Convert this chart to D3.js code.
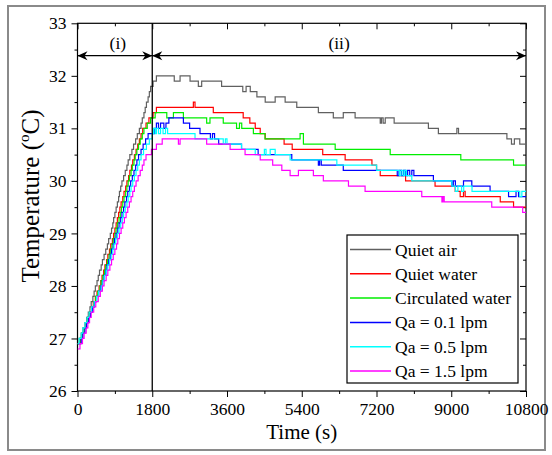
<!DOCTYPE html>
<html>
<head>
<meta charset="utf-8">
<script src="https://cdn.jsdelivr.net/npm/d3@7"></script>
<style>
body { margin: 0; background: #fff; }
text { font-family: "Liberation Serif", "Times New Roman", serif; fill: #000; }
</style>
</head>
<body>
<svg id="chart" width="552" height="455"></svg>
<script>
// [time (s), temperature (C)] step points
var quietAir = [[0,26.9],[40,27.0],[90,27.1],[130,27.2],[180,27.3],[220,27.4],[260,27.5],[300,27.6],[330,27.7],[370,27.8],[400,27.9],[430,28.0],[470,28.1],[500,28.2],[530,28.3],[570,28.4],[600,28.5],[640,28.6],[680,28.7],[720,28.8],[750,28.9],[790,29.0],[820,29.1],[850,29.2],[870,29.3],[900,29.4],[930,29.5],[960,29.6],[990,29.7],[1010,29.8],[1040,29.9],[1070,30.0],[1110,30.1],[1150,30.2],[1190,30.3],[1220,30.4],[1260,30.5],[1310,30.6],[1350,30.7],[1400,30.8],[1440,30.9],[1490,31.0],[1530,31.1],[1560,31.2],[1600,31.3],[1630,31.4],[1660,31.5],[1700,31.6],[1730,31.7],[1760,31.8],[1820,31.9],[1900,32.0],
	[2330,31.9],[2470,32.0],[2710,31.9],[2910,31.8],[2990,31.9],[3470,31.8],[3980,31.7],[4060,31.8],[4160,31.7],[4320,31.6],[4520,31.5],[4760,31.6],[5000,31.5],[5280,31.4],[5800,31.3],[6160,31.2],[6400,31.3],[6685,31.2],[7290,31.1],[7320,31.2],[7360,31.1],[7410,31.2],[7625,31.1],[8450,31.0],[8690,30.9],[9135,31.0],[9175,30.9],[10340,30.8],[10450,30.7],[10520,30.8],[10650,30.7],[10800,30.7]];

var quietWater = [[0,26.9],[70,27.0],[110,27.1],[160,27.2],[200,27.3],[250,27.4],[290,27.5],[340,27.6],[380,27.7],[430,27.8],[470,27.9],[520,28.0],[560,28.1],[590,28.2],[630,28.3],[660,28.4],[700,28.5],[730,28.6],[770,28.7],[800,28.8],[840,28.9],[870,29.0],[900,29.1],[930,29.2],[960,29.3],[990,29.4],[1020,29.5],[1050,29.6],[1090,29.7],[1120,29.8],[1160,29.9],[1190,30.0],[1230,30.1],[1260,30.2],[1300,30.3],[1330,30.4],[1370,30.5],[1410,30.6],[1450,30.7],[1490,30.8],[1530,30.9],[1570,31.0],[1650,31.1],[1720,31.2],[1820,31.3],[1900,31.4],
	[2790,31.5],[2830,31.4],[3270,31.3],[3990,31.2],[4150,31.1],[4280,31.0],[4400,30.9],[4520,30.8],[4975,30.7],[5170,30.6],[5905,30.5],[6445,30.4],[7090,30.3],[7200,30.2],[7290,30.1],[7900,30.0],[8610,29.9],[9095,29.8],[9215,29.7],[9295,29.8],[9335,29.7],[10180,29.6],[10500,29.5],[10800,29.5]];

var circWater = [[0,26.9],[60,27.0],[110,27.1],[160,27.2],[210,27.3],[250,27.4],[300,27.5],[350,27.6],[400,27.7],[440,27.8],[490,27.9],[540,28.0],[570,28.1],[610,28.2],[650,28.3],[680,28.4],[720,28.5],[760,28.6],[790,28.7],[830,28.8],[860,28.9],[900,29.0],[930,29.1],[960,29.2],[1000,29.3],[1030,29.4],[1060,29.5],[1090,29.6],[1120,29.7],[1160,29.8],[1190,29.9],[1220,30.0],[1250,30.1],[1290,30.2],[1320,30.3],[1360,30.4],[1390,30.5],[1430,30.6],[1470,30.7],[1510,30.8],[1560,30.9],[1600,31.0],[1680,31.1],[1760,31.2],[1870,31.3],
	[2150,31.2],[2310,31.3],[2550,31.2],[3110,31.1],[3190,31.2],[3510,31.1],[3830,31.0],[3900,31.1],[3955,31.0],[4235,30.9],[4515,30.8],[5360,30.9],[5440,30.7],[6205,30.6],[7530,30.5],[9230,30.4],[10500,30.3],[10800,30.3]];

var qa01 = [[0,26.9],[90,27.0],[130,27.1],[180,27.2],[220,27.3],[270,27.4],[310,27.5],[360,27.6],[410,27.7],[460,27.8],[510,27.9],[560,28.0],[600,28.1],[640,28.2],[680,28.3],[710,28.4],[750,28.5],[790,28.6],[820,28.7],[860,28.8],[890,28.9],[930,29.0],[970,29.1],[1000,29.2],[1040,29.3],[1070,29.4],[1110,29.5],[1140,29.6],[1180,29.7],[1210,29.8],[1250,29.9],[1280,30.0],[1320,30.1],[1360,30.2],[1400,30.3],[1430,30.4],[1470,30.5],[1530,30.6],[1580,30.7],[1640,30.8],[1700,30.9],[1850,31.0],
	[1900,31.1],[1950,31.0],[2000,31.1],[2080,31.0],[2130,31.1],[2200,31.2],[2550,31.1],[2700,31.0],[2950,30.9],[3200,30.8],[3250,30.9],[3300,30.8],[3400,30.7],[3950,30.6],[4350,30.5],[5160,30.4],[5800,30.3],[5830,30.4],[5870,30.3],[6400,30.2],[7700,30.1],[7740,30.2],[7800,30.1],[7850,30.2],[7900,30.1],[7950,30.2],[8000,30.1],[8050,30.2],[8100,30.1],[8570,30.0],[9015,29.9],[9050,30.0],[9100,29.9],[9295,30.0],[9495,29.9],[9935,29.8],[10380,29.7],[10560,29.8],[10620,29.7],[10800,29.7]];

var qa05 = [[0,26.9],[40,27.0],[90,27.1],[130,27.2],[180,27.3],[230,27.4],[280,27.5],[340,27.6],[400,27.7],[460,27.8],[510,27.9],[570,28.0],[610,28.1],[650,28.2],[690,28.3],[730,28.4],[770,28.5],[810,28.6],[850,28.7],[880,28.8],[920,28.9],[960,29.0],[1000,29.1],[1040,29.2],[1080,29.3],[1110,29.4],[1150,29.5],[1190,29.6],[1220,29.7],[1260,29.8],[1290,29.9],[1330,30.0],[1370,30.1],[1410,30.2],[1450,30.3],[1490,30.4],[1530,30.5],[1590,30.6],[1660,30.7],[1730,30.8],[1800,30.9],
	[1830,31.0],[1870,30.9],[1900,31.0],[1950,30.9],[2000,31.0],[2060,30.9],[2120,31.0],[2170,30.9],[2830,30.8],[3510,30.7],[3560,30.8],[3600,30.7],[3950,30.6],[4280,30.5],[4500,30.6],[4540,30.5],[4640,30.6],[4760,30.5],[5120,30.4],[6245,30.3],[7205,30.2],[7750,30.1],[7790,30.2],[7840,30.1],[7880,30.2],[7920,30.1],[8050,30.0],[9015,29.9],[9100,29.8],[9160,29.9],[9250,29.8],[9300,29.9],[9500,29.8],[10650,29.7],[10700,29.8],[10800,29.8]];

var qa15 = [[0,26.8],[60,26.9],[120,27.0],[160,27.1],[210,27.2],[250,27.3],[290,27.4],[330,27.5],[390,27.6],[440,27.7],[500,27.8],[550,27.9],[600,28.0],[640,28.1],[690,28.2],[730,28.3],[780,28.4],[820,28.5],[860,28.6],[900,28.7],[940,28.8],[970,28.9],[1010,29.0],[1050,29.1],[1090,29.2],[1130,29.3],[1170,29.4],[1210,29.5],[1250,29.6],[1290,29.7],[1330,29.8],[1370,29.9],[1410,30.0],[1460,30.1],[1510,30.2],[1560,30.3],[1600,30.4],[1650,30.5],[1780,30.6],[1900,30.7],[2040,30.8],
	[2430,30.7],[2470,30.8],[3110,30.7],[3675,30.6],[4035,30.5],[4400,30.4],[4700,30.3],[4920,30.2],[5120,30.1],[5320,30.2],[5680,30.1],[5920,30.0],[6525,29.9],[6925,29.8],[8290,29.7],[8775,29.6],[8800,29.7],[8830,29.6],[9975,29.5],[10720,29.4],[10800,29.4]];

var seriesNames = ['Quiet air', 'Quiet water', 'Circulated water', 'Qa = 0.1 lpm', 'Qa = 0.5 lpm', 'Qa = 1.5 lpm'];
var seriesColors = ['#606060', '#ff0000', '#00ee00', '#0000ff', '#00ffff', '#ff00ff'];
var xTicks = [0, 1800, 3600, 5400, 7200, 9000, 10800];
var xMinor = [900, 2700, 4500, 6300, 8100, 9900];
var yTicks = [26, 27, 28, 29, 30, 31, 32, 33];
var yMinor = [26.5, 27.5, 28.5, 29.5, 30.5, 31.5, 32.5];
var phaseLabels = ['(i)', '(ii)'];
var phaseBounds = [0, 1800, 10800];

var allSeries = [quietAir, quietWater, circWater, qa01, qa05, qa15];

var svg = d3.select('#chart');
var g = svg.append('g');

var pLeft = 77.5, pRight = 526, pTop = 23.3, pBottom = 391;
var x = d3.scaleLinear().domain([0, 10800]).range([pLeft, pRight]);
var y = d3.scaleLinear().domain([26, 33]).range([pBottom, pTop]);

// outer grey frame
g.append('rect')
	.attr('x', 8)
	.attr('y', 6)
	.attr('width', 537)
	.attr('height', 444)
	.attr('fill', 'none')
	.attr('stroke', '#8a8a8a')
	.attr('stroke-width', 2);

drawAxes();
drawLines();
drawPhases();
drawLegend();

function styleAxis(sel, labels) {
	sel.attr('font-family', null);
	sel.select('.domain').remove();
	sel.selectAll('line').attr('stroke', '#000').attr('stroke-width', 1);
	if (labels) {
		sel.selectAll('text')
			.style('font-family', '"Liberation Serif", "Times New Roman", serif')
			.style('font-size', '17.5px')
			.attr('fill', '#000');
	} else {
		sel.selectAll('text').remove();
	}
}

function drawAxes() {
	var xb = g.append('g').attr('transform', 'translate(0,' + pBottom + ')')
		.call(d3.axisBottom(x).tickValues(xTicks).tickSize(6).tickPadding(6).tickFormat(d3.format('d')));
	styleAxis(xb, true);
	var xbm = g.append('g').attr('transform', 'translate(0,' + pBottom + ')')
		.call(d3.axisBottom(x).tickValues(xMinor).tickSize(3));
	styleAxis(xbm, false);

	var xt = g.append('g').attr('transform', 'translate(0,' + pTop + ')')
		.call(d3.axisTop(x).tickValues(xTicks).tickSize(-6));
	styleAxis(xt, false);
	var xtm = g.append('g').attr('transform', 'translate(0,' + pTop + ')')
		.call(d3.axisTop(x).tickValues(xMinor).tickSize(-3));
	styleAxis(xtm, false);

	var yl = g.append('g').attr('transform', 'translate(' + pLeft + ',0)')
		.call(d3.axisLeft(y).tickValues(yTicks).tickSize(6).tickPadding(5).tickFormat(d3.format('d')));
	styleAxis(yl, true);
	var ylm = g.append('g').attr('transform', 'translate(' + pLeft + ',0)')
		.call(d3.axisLeft(y).tickValues(yMinor).tickSize(3));
	styleAxis(ylm, false);

	var yr = g.append('g').attr('transform', 'translate(' + pRight + ',0)')
		.call(d3.axisRight(y).tickValues(yTicks).tickSize(-6));
	styleAxis(yr, false);
	var yrm = g.append('g').attr('transform', 'translate(' + pRight + ',0)')
		.call(d3.axisRight(y).tickValues(yMinor).tickSize(-3));
	styleAxis(yrm, false);

	g.append('rect')
		.attr('x', pLeft)
		.attr('y', pTop)
		.attr('width', pRight - pLeft)
		.attr('height', pBottom - pTop)
		.attr('fill', 'none')
		.attr('stroke', '#000')
		.attr('stroke-width', 1.2);

	g.append('text')
		.attr('x', (pLeft + pRight) / 2)
		.attr('y', 439)
		.attr('text-anchor', 'middle')
		.style('font-size', '21px')
		.text('Time (s)');

	var yt = g.append('text')
		.attr('transform', 'translate(39,196) rotate(-90)')
		.attr('text-anchor', 'middle')
		.style('font-size', '25px');
	yt.append('tspan').text('Temperature (');
	yt.append('tspan').attr('dy', -10).style('font-size', '15px').text('o');
	yt.append('tspan').attr('dy', 10).text('C)');
}

function drawLines() {
	svg.append('clipPath').attr('id', 'plotclip')
		.append('rect')
		.attr('x', pLeft).attr('y', pTop)
		.attr('width', pRight - pLeft).attr('height', pBottom - pTop);

	var line = d3.line()
		.x(function(d) { return x(d[0]); })
		.y(function(d) { return y(d[1]); })
		.curve(d3.curveStepAfter);

	g.append('g').attr('clip-path', 'url(#plotclip)')
		.selectAll('path')
		.data(allSeries)
		.enter().append('path')
		.attr('d', line)
		.attr('fill', 'none')
		.attr('stroke', function(d, i) { return seriesColors[i]; })
		.attr('stroke-width', 1.2);

	// end of heating period
	g.append('line')
		.attr('x1', x(phaseBounds[1]))
		.attr('y1', pTop)
		.attr('x2', x(phaseBounds[1]))
		.attr('y2', pBottom)
		.attr('stroke', '#000')
		.attr('stroke-width', 1.3);
}

function arrowHead(tx, ty, dir) {
	var L = 10, W = 4.5, N = 7;
	var pts = [[tx, ty], [tx + dir * L, ty - W], [tx + dir * N, ty], [tx + dir * L, ty + W]];
	g.append('polygon')
		.attr('points', pts.map(function(p) { return p.join(','); }).join(' '))
		.attr('fill', '#000');
}

function drawPhases() {
	var ay = 55.7;
	for (var i = 0; i < phaseLabels.length; i++) {
		var x1 = x(phaseBounds[i]), x2 = x(phaseBounds[i + 1]);
		g.append('line')
			.attr('x1', x1).attr('y1', ay)
			.attr('x2', x2).attr('y2', ay)
			.attr('stroke', '#000')
			.attr('stroke-width', 1.2);
		arrowHead(x1, ay, 1);
		arrowHead(x2, ay, -1);
		g.append('text')
			.attr('x', (x1 + x2) / 2 + (i === 0 ? 3 : 0))
			.attr('y', 49)
			.attr('text-anchor', 'middle')
			.style('font-size', '17.5px')
			.text(phaseLabels[i]);
	}
}

function drawLegend() {
	var lx = 347, ly = 235, lw = 171, lh = 148, rowH = 24.3;
	g.append('rect')
		.attr('x', lx).attr('y', ly)
		.attr('width', lw).attr('height', lh)
		.attr('fill', '#fff')
		.attr('stroke', '#000')
		.attr('stroke-width', 1.2);

	var rows = g.selectAll('.leg')
		.data(seriesNames)
		.enter().append('g')
		.attr('class', 'leg')
		.attr('transform', function(d, i) { return 'translate(' + lx + ',' + (ly + 14.5 + i * rowH) + ')'; });

	rows.append('line')
		.attr('x1', 3).attr('x2', 44)
		.attr('y1', 0).attr('y2', 0)
		.attr('stroke', function(d, i) { return seriesColors[i]; })
		.attr('stroke-width', 1.5);

	rows.append('text')
		.attr('x', 48)
		.attr('y', 6)
		.style('font-size', '17.5px')
		.text(function(d) { return d; });
}
</script>
</body>
</html>
